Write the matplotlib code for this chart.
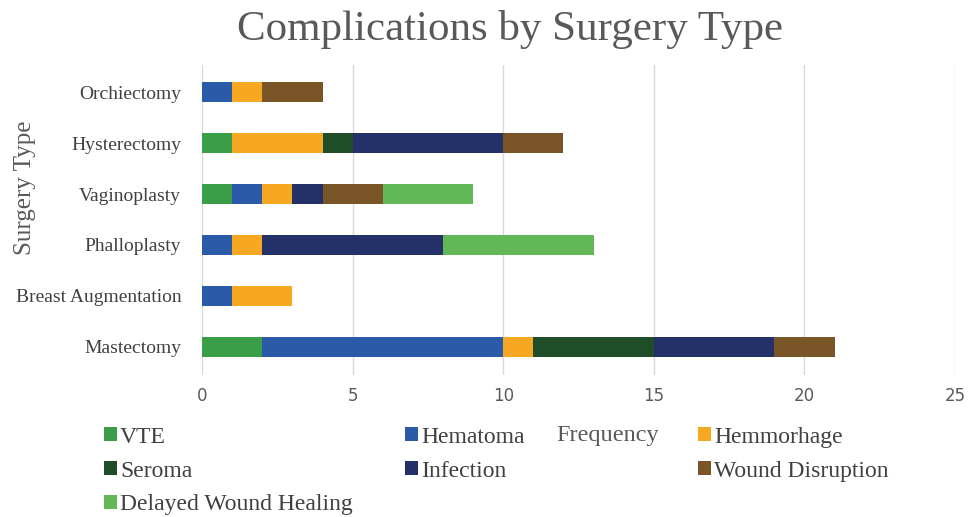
import matplotlib
matplotlib.use("Agg")
import matplotlib.pyplot as plt
from matplotlib.patches import Patch
import numpy as np

# surgery types, bottom to top
surgeries = ["Mastectomy", "Breast Augmentation", "Phalloplasty",
             "Vaginoplasty", "Hysterectomy", "Orchiectomy"]

# complication counts, same order as surgeries
vte = [2, 0, 0, 1, 1, 0]
hematoma = [8, 1, 1, 1, 0, 1]
hemmorhage = [1, 2, 1, 1, 3, 1]
seroma = [4, 0, 0, 0, 1, 0]
infection = [4, 0, 6, 1, 5, 0]
wound_disruption = [2, 0, 0, 2, 2, 2]
delayed_healing = [0, 0, 5, 3, 0, 0]

series = [
    ("VTE", vte, "#3a9d47"),
    ("Hematoma", hematoma, "#2b5ba8"),
    ("Hemmorhage", hemmorhage, "#f7a823"),
    ("Seroma", seroma, "#1e4d28"),
    ("Infection", infection, "#243068"),
    ("Wound Disruption", wound_disruption, "#7a5528"),
    ("Delayed Wound Healing", delayed_healing, "#62b756"),
]

SERIF = ["Liberation Serif", "DejaVu Serif"]
GRAY = "#595959"

fig = plt.figure(figsize=(9.68, 5.17), dpi=100)
ax = fig.add_axes([0.2087, 0.275, 0.7779, 0.599])

y = np.arange(len(surgeries))
left = np.zeros(len(surgeries))
handles = {}
for name, vals, color in series:
    vals = np.array(vals, dtype=float)
    ax.barh(y, vals, left=left, height=0.4, color=color, zorder=3)
    left += vals
    handles[name] = Patch(facecolor=color, edgecolor="none")

ax.set_xlim(0, 25)
ax.set_ylim(-0.55, 5.53)
ax.set_xticks([0, 5, 10, 15, 20, 25])
ax.set_yticks(y)
ax.set_yticklabels(surgeries, fontfamily=SERIF, fontsize=14, color="#404040")
ax.tick_params(axis="x", length=0, pad=9, labelsize=12, labelcolor=GRAY)
ax.tick_params(axis="y", length=0, pad=15)
ax.grid(axis="x", color="#d9d9d9", linewidth=1, zorder=0)
for s in ax.spines.values():
    s.set_visible(False)

fig.text(0.026, 0.636, "Surgery Type", rotation=90, fontfamily=SERIF,
         fontsize=18, color=GRAY, ha="center", va="center")
fig.text(0.628, 0.158, "Frequency", fontfamily=SERIF, fontsize=17.5, color=GRAY,
         ha="center", va="center")
fig.text(0.527, 0.942, "Complications by Surgery Type", fontfamily=SERIF,
         fontsize=31, color=GRAY, ha="center", va="center")

# legend laid out in three columns like the original
columns = [
    (0.107, ["VTE", "Seroma", "Delayed Wound Healing"]),
    (0.418, ["Hematoma", "Infection"]),
    (0.721, ["Hemmorhage", "Wound Disruption"]),
]
for x0, names in columns:
    fig.legend([handles[n] for n in names], names, loc="upper left",
               bbox_to_anchor=(x0, 0.175), frameon=False,
               prop={"family": SERIF, "size": 17}, labelcolor="#404040",
               handlelength=0.55, handleheight=0.55, handletextpad=0.15,
               labelspacing=0.55, borderpad=0, borderaxespad=0)

fig.savefig("out.png", dpi=100)
